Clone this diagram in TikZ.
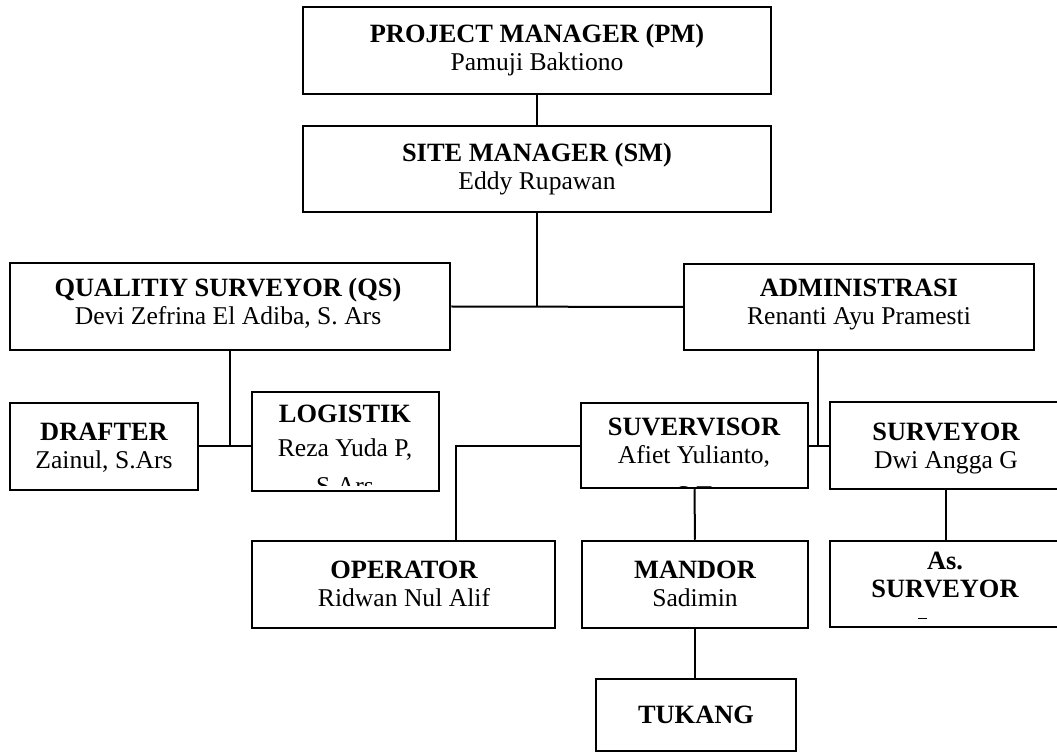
\documentclass[tikz,border=0pt]{standalone}
\usepackage{fontspec}
\setmainfont{Liberation Serif}
\usetikzlibrary{fit}

% Role titles are set a little larger than the names
\newcommand\roletitle[1]{{\fontsize{13.2pt}{14pt}\selectfont\bfseries #1}}
% Two-line caption: bold role over the person's name, first baseline on the anchor
\newcommand\roletext[2]{\begin{tabular}[t]{@{}c@{}}\roletitle{#1}\\#2\end{tabular}}

\tikzset{
  box/.style={draw, line width=1.25pt, inner sep=0pt, fill=white},
  lbl/.style={inner sep=0pt, anchor=base,
    font=\fontsize{12.8pt}{14pt}\selectfont},
  link/.style={line width=1pt}
}

\begin{document}
\begin{tikzpicture}[x=0.5pt, y=-0.5pt]
\useasboundingbox (0,0) rectangle (1057,754);

% ---- boxes ----
\node[box, fit={(303,7) (771,94)}]    (pm) {};
\node[box, fit={(303,126) (771,212)}] (sm) {};
\node[box, fit={(10,263) (450,350)}]  (qs) {};
\node[box, fit={(684,264) (1034,350)}] (adm) {};
\node[box, fit={(10,403) (198,490)}]  (dr) {};
\node[box, fit={(252,392) (439,491)}] (lg) {};
\node[box, fit={(581,403) (808,488)}] (sv) {};
\node[box, fit={(830,402) (1062,489)}] (sy) {};
\node[box, fit={(252,541) (555,628)}] (op) {};
\node[box, fit={(582,541) (808,628)}] (md) {};
\node[box, fit={(830,541) (1062,627)}] (as) {};
\node[box, fit={(596,679) (796,751)}] (tk) {};

% ---- connectors ----
\coordinate (qj) at (230,446);
\coordinate (aj) at (818,446);
\coordinate (oj) at (456,446);
\draw[link] (pm.south) -- (sm.north);
\draw[link] (sm.south) -- (sm.south |- qs.east);
\draw[link] (qs.east) -- (adm.west);
\draw[link] (qs.south) -- (qj);
\draw[link] (dr.east |- qj) -- (lg.west |- qj);
\draw[link] (aj |- adm.south) -- (aj);
\draw[link] (sv.east |- aj) -- (sy.west |- aj);
\draw[link] (sv.west |- oj) -- (oj) -- (oj |- op.north);
\draw[link] (sv.south) -- (md.north);
\draw[link] (md.south) -- (md.south |- tk.north);
\draw[link] (sy.south) -- (as.north);

% ---- captions ----
\node[lbl] (pm-t)  at (537,43)  {\roletext{PROJECT MANAGER (PM)}{Pamuji Baktiono}};
\node[lbl] (sm-t)  at (537,162) {\roletext{SITE MANAGER (SM)}{Eddy Rupawan}};
\node[lbl] (qs-t)  at (228,297) {\roletext{QUALITIY SURVEYOR (QS)}{Devi Zefrina El Adiba, S. Ars}};
\node[lbl] (adm-t) at (859,297) {\roletext{ADMINISTRASI}{Renanti Ayu Pramesti}};
\node[lbl] (dr-t)  at (104,441) {\roletext{DRAFTER}{Zainul, S.Ars}};
\node[lbl] (sy-t)  at (946,441) {\roletext{SURVEYOR}{Dwi Angga G}};
\node[lbl] (op-t)  at (404,579) {\roletext{OPERATOR}{Ridwan Nul Alif}};
\node[lbl] (md-t)  at (695,579) {\roletext{MANDOR}{Sadimin}};
\node[lbl] (tk-t)  at (696,724) {\roletitle{TUKANG}};

% text that runs past the bottom of its box is cut off
\begin{scope}
  \clip (254,394) rectangle (437,486);
  \node[lbl] (lg-t) at (345,423)
    {\begin{tabular}[t]{@{}c@{}}\roletitle{LOGISTIK}\\[3pt]Reza Yuda P,\\[5pt]S.Ars\end{tabular}};
\end{scope}
\begin{scope}
  \clip (583,405) rectangle (806,487);
  \node[lbl] (sv-t) at (694,436)
    {\begin{tabular}[t]{@{}c@{}}\roletitle{SUVERVISOR}\\Afiet Yulianto,\\[6pt]S.T\end{tabular}};
\end{scope}
\node[lbl] (as-t) at (945,570)
  {\begin{tabular}[t]{@{}c@{}}\roletitle{As.}\\\roletitle{SURVEYOR}\end{tabular}};
\draw[line width=0.5pt] (918,619) -- (927,619);
\end{tikzpicture}
\end{document}
